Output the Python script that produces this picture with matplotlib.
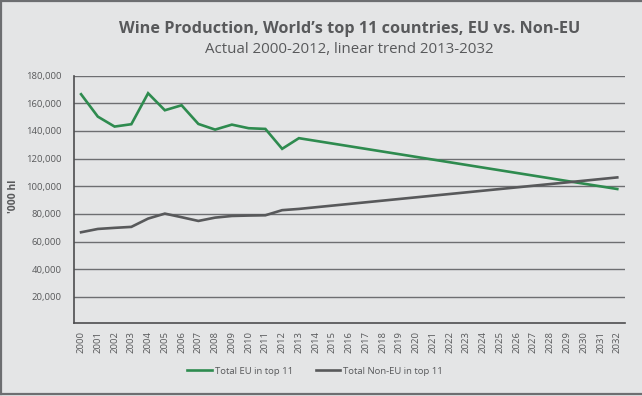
import numpy as np
import matplotlib
matplotlib.use("Agg")
import matplotlib.pyplot as plt
from matplotlib.lines import Line2D

# actual 2000-2013, then trend end point 2032 ('000 hl)
years = [2000, 2001, 2002, 2003, 2004, 2005, 2006, 2007, 2008, 2009,
         2010, 2011, 2012, 2013, 2032]
eu_total = [166600, 150400, 143200, 144900, 167300, 155000, 158600, 145100,
            141000, 144600, 142000, 141500, 127100, 134800, 98000]
non_eu_total = [66700, 69100, 69900, 70600, 76600, 80200, 77600, 74900,
                77300, 78500, 78800, 79000, 82700, 83600, 106400]
tick_years = list(range(2000, 2033))
y_ticks = [20000, 40000, 60000, 80000, 100000, 120000, 140000, 160000, 180000]

bg = "#e4e5e6"
txt = "#58595b"
green = "#2e8b4f"
grey = "#58595b"

plt.rcParams["font.family"] = ["Open Sans", "DejaVu Sans"]

fig = plt.figure(figsize=(6.42, 3.96), dpi=100, facecolor=bg)
ax = fig.add_axes([0.1153, 0.1856, 0.9735 - 0.1153, 0.8088 - 0.1856])
ax.set_facecolor(bg)

ax.plot(years, eu_total, color=green, lw=1.9, label="Total EU in top 11",
        solid_joinstyle="miter")
ax.plot(years, non_eu_total, color=grey, lw=1.9, label="Total Non-EU in top 11",
        solid_joinstyle="miter")

ax.set_xlim(1999.58, 2032.46)
ax.set_ylim(1400, 180000)
ax.set_xticks(tick_years)
ax.set_xticklabels([str(y) for y in tick_years], rotation=90, fontsize=6.8, color=txt)
ax.set_yticks(y_ticks)
ax.set_yticklabels([f"{v:,}" for v in y_ticks], fontsize=6.8, color=txt)
ax.tick_params(length=0, pad=6)
ax.tick_params(axis="y", pad=9)
ax.grid(axis="y", color="#6d6e71", lw=1.0)
ax.set_axisbelow(True)
for s in ["top", "right"]:
    ax.spines[s].set_visible(False)
for s in ["left", "bottom"]:
    ax.spines[s].set_color("#4d4d4f")
    ax.spines[s].set_linewidth(1.2)

fig.text(14 / 642, 1 - 196 / 396, "'000 hl", rotation=90, ha="center", va="center",
         fontsize=7.5, fontweight="bold", color=txt)

cx = (74 + 625) / 2 / 642
fig.text(cx, 1 - 28.8 / 396, "Wine Production, World\u2019s top 11 countries, EU vs. Non-EU",
         ha="center", va="center", fontsize=11.7, fontweight="bold", color=txt)
fig.text(cx, 1 - 49.7 / 396, "Actual 2000-2012, linear trend 2013-2032",
         ha="center", va="center", fontsize=10.8, color=txt)

fig.legend(loc="center", bbox_to_anchor=(315 / 642, 1 - 371 / 396), ncol=2,
           frameon=False, fontsize=6.8, labelcolor=txt, handlelength=2.6,
           handletextpad=0.3, columnspacing=2.4)

# frame round the figure (left, top, bottom)
for xs, ys in [([0.002, 0.002], [0.005, 0.997]), ([0.002, 1], [0.997, 0.997]),
               ([0.002, 1], [0.005, 0.005])]:
    fig.add_artist(Line2D(xs, ys, transform=fig.transFigure, color="#6d6e71", lw=1.6))

fig.savefig("out.png", dpi=100, facecolor=bg)
